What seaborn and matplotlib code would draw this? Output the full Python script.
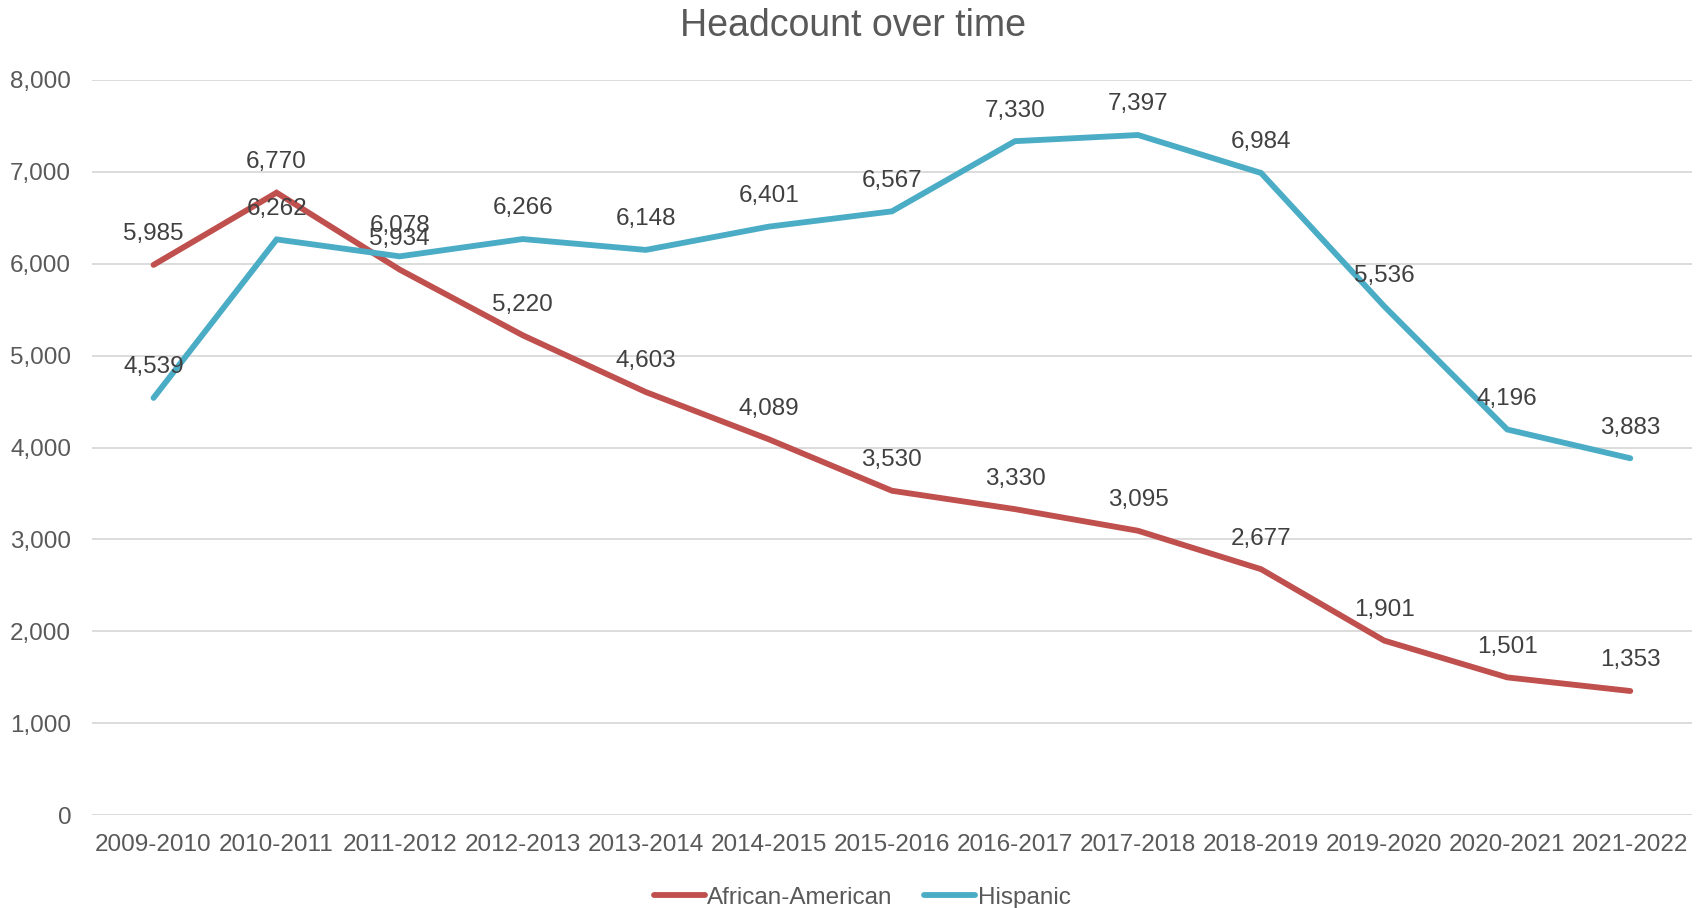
import matplotlib
matplotlib.use("Agg")
import matplotlib.pyplot as plt
import seaborn as sns
import pandas as pd
from matplotlib.ticker import FuncFormatter

years = ["2009-2010", "2010-2011", "2011-2012", "2012-2013", "2013-2014",
         "2014-2015", "2015-2016", "2016-2017", "2017-2018", "2018-2019",
         "2019-2020", "2020-2021", "2021-2022"]
african_american = [5985, 6770, 5934, 5220, 4603, 4089, 3530, 3330, 3095, 2677, 1901, 1501, 1353]
hispanic = [4539, 6262, 6078, 6266, 6148, 6401, 6567, 7330, 7397, 6984, 5536, 4196, 3883]
groups = ["African-American", "Hispanic"]
colors = ["#C0504D", "#4BACC6"]

df = pd.DataFrame({
    "Year": years * 2,
    "Headcount": african_american + hispanic,
    "Group": [groups[0]] * len(years) + [groups[1]] * len(years),
})
df["pos"] = list(range(len(years))) * 2

sns.set_style("white")
plt.rcParams["font.family"] = ["Liberation Sans", "DejaVu Sans"]

fig = plt.figure(figsize=(17.07, 9.08), dpi=100)
ax = fig.add_axes([0.0539, 0.1019, 0.9372, 0.8105])

sns.lineplot(
    data=df, x="pos", y="Headcount", hue="Group",
    palette=colors, linewidth=4.2, ax=ax, legend=False,
)
for line in ax.lines:
    line.set_solid_capstyle("round")
    line.set_solid_joinstyle("miter")

for vals in [african_american, hispanic]:
    for i, v in enumerate(vals):
        ax.annotate(f"{v:,}", (i, v), xytext=(0, 22), textcoords="offset points",
                    ha="center", va="center", fontsize=17.5, color="#404040")

ax.set_xlim(-0.5, len(years) - 0.5)
ax.set_ylim(0, 8000)
ax.set_yticks(range(0, 8001, 1000))
ax.yaxis.set_major_formatter(FuncFormatter(lambda v, p: f"{int(v):,}"))
ax.set_xticks(range(len(years)))
ax.set_xticklabels(years)
ax.tick_params(axis="both", length=0, labelsize=17.5, labelcolor="#595959")
ax.tick_params(axis="x", pad=13)
ax.tick_params(axis="y", pad=15)
ax.yaxis.grid(True, color="#D9D9D9", linewidth=1.3)
ax.set_axisbelow(True)
for s in ax.spines.values():
    s.set_visible(False)
ax.set_xlabel("")
ax.set_ylabel("")

fig.text(0.5, 1 - 26 / 908, "Headcount over time", ha="center", va="center",
         fontsize=27, color="#595959")

handles = [plt.Line2D([], [], color=c, linewidth=4.2, solid_capstyle="round") for c in colors]
fig.legend(handles, groups, loc="lower center", bbox_to_anchor=(0.505, -0.025), ncol=2,
           frameon=False, fontsize=17.5, labelcolor="#595959", handlelength=2.1,
           handletextpad=0.1, columnspacing=1.3)

fig.savefig("out.png", dpi=100)
